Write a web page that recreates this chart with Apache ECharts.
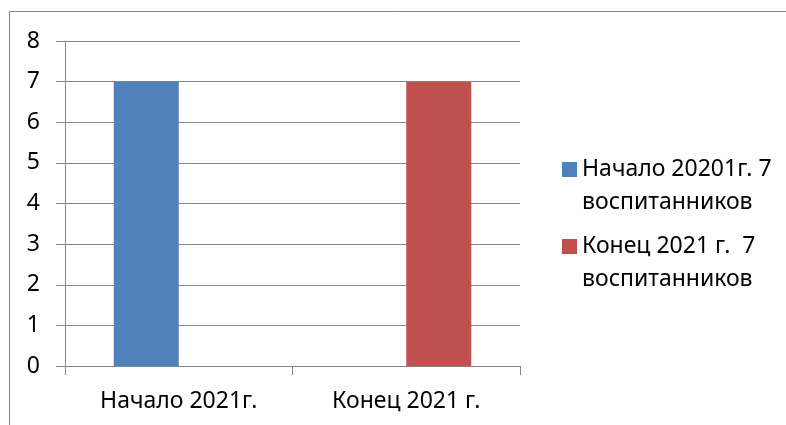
<!DOCTYPE html>
<html>
<head>
<meta charset="utf-8">
<script src="https://cdn.jsdelivr.net/npm/echarts@6/dist/echarts.min.js"></script>
<style>
  html, body { margin: 0; padding: 0; background: #fff; }
  #chart { width: 786px; height: 425px; }
</style>
</head>
<body>
<div id="chart"></div>
<script>
// data
var categories = ['Начало 2021г.', 'Конец 2021 г.'];
var seriesNames = ['Начало 20201г. 7 воспитанников', 'Конец 2021 г.  7 воспитанников'];
var startValues = [7, 0];
var endValues = [0, 7];
var yTicks = [0, 8, 1]; // min, max, interval

var FONT = '"Noto Sans", "DejaVu Sans", sans-serif';
var GRAY = '#878787';

var myChart = echarts.init(document.getElementById('chart'));
myChart.setOption({
	animation: false,
	textStyle: { fontFamily: FONT, color: '#000' },
	graphic: [
		// outer chart border (cut by page edge, as in the source)
		{
			type: 'rect',
			shape: { x: 9.5, y: 11.5, width: 820, height: 440 },
			style: { fill: 'none', stroke: GRAY, lineWidth: 1 },
			silent: true
		}
	],
	grid: { left: 65, right: 266, top: 41, bottom: 59 },
	legend: {
		orient: 'vertical',
		left: 562,
		top: 120,
		padding: 0,
		itemGap: -22,
		itemWidth: 15,
		itemHeight: 15,
		icon: 'rect',
		selectedMode: false,
		data: seriesNames,
		// blank first line so the first real line sits beside the icon
		formatter: function (name) {
			return ' \n' + name.replace(' воспитанников', '\nвоспитанников');
		},
		textStyle: {
			fontFamily: FONT,
			fontSize: 23,
			color: '#000',
			lineHeight: 33
		}
	},
	xAxis: {
		type: 'category',
		data: categories,
		axisLine: { lineStyle: { color: GRAY } },
		axisTick: { show: true, length: 9, alignWithLabel: false, lineStyle: { color: GRAY } },
		axisLabel: { fontFamily: FONT, fontSize: 23, color: '#000', margin: 24 }
	},
	yAxis: {
		type: 'value',
		min: yTicks[0],
		max: yTicks[1],
		interval: yTicks[2],
		axisLine: { show: true, lineStyle: { color: GRAY } },
		axisTick: { show: true, length: 9, lineStyle: { color: GRAY } },
		splitLine: { lineStyle: { color: GRAY } },
		axisLabel: { fontFamily: FONT, fontSize: 23, color: '#000', margin: 25 }
	},
	series: [
		{
			name: seriesNames[0],
			type: 'bar',
			data: startValues,
			barWidth: 65,
			barGap: '0%',
			itemStyle: { color: '#4F81BD' }
		},
		{
			name: seriesNames[1],
			type: 'bar',
			data: endValues,
			barWidth: 65,
			barGap: '0%',
			itemStyle: { color: '#C0504D' }
		}
	]
});
</script>
</body>
</html>
